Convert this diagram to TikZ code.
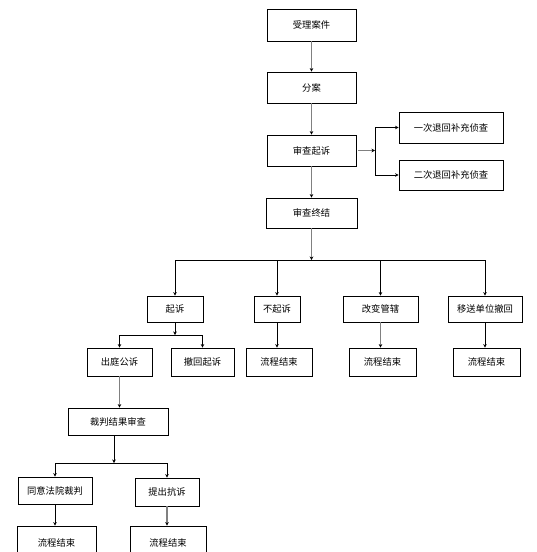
\documentclass[tikz,border=0pt]{standalone}
\usepackage{fontspec}
\setmainfont{Noto Sans CJK SC}
\usetikzlibrary{arrows.meta}
\begin{document}
\begin{tikzpicture}[x=1pt,y=-1pt,
  box/.style={draw=black,line width=0.8pt,fill=white,inner sep=0pt,font=\fontsize{9.3}{11}\selectfont},
  garr/.style={draw=gray,line width=1.4pt,-{Stealth[length=3.5pt,width=3.5pt,black]}},
  barr/.style={draw=black,line width=0.7pt,-{Stealth[length=3.5pt,width=3.5pt,black]}},
  bline/.style={draw=black,line width=0.7pt}]
\clip (0,0) rectangle (537,552);
\fill[white] (0,0) rectangle (537,552);
% main column
\node[box,minimum width=89,minimum height=32] (acc) at (311.5,25) {受理案件};
\node[box,minimum width=89,minimum height=31] (fen) at (311.5,87.5) {分案};
\node[box,minimum width=89,minimum height=31] (scqs) at (311.5,150.5) {审查起诉};
\node[box,minimum width=104,minimum height=31] (once) at (451,127.5) {一次退回补充侦查};
\node[box,minimum width=104,minimum height=30] (twice) at (451,175) {二次退回补充侦查};
\node[box,minimum width=91,minimum height=30] (zj) at (311.5,213) {审查终结};
% row 1
\node[box,minimum width=56,minimum height=26] (qs) at (175,309) {起诉};
\node[box,minimum width=46,minimum height=26] (bqs) at (277,309) {不起诉};
\node[box,minimum width=75,minimum height=26] (gbgx) at (380.5,309) {改变管辖};
\node[box,minimum width=74,minimum height=26] (ydw) at (485,309) {移送单位撤回};
% row 2
\node[box,minimum width=65,minimum height=28] (cting) at (119.5,362) {出庭公诉};
\node[box,minimum width=63,minimum height=28] (chqs) at (202.5,362) {撤回起诉};
\node[box,minimum width=66,minimum height=28] (end1) at (279,362) {流程结束};
\node[box,minimum width=67,minimum height=28] (end2) at (382.5,362) {流程结束};
\node[box,minimum width=67,minimum height=28] (end3) at (486.5,362) {流程结束};
% lower part
\node[box,minimum width=100,minimum height=27] (cpjg) at (118,421.5) {裁判结果审查};
\node[box,minimum width=74,minimum height=27] (tyfy) at (55,490.5) {同意法院裁判};
\node[box,minimum width=64,minimum height=28] (tckq) at (167,492) {提出抗诉};
\node[box,minimum width=79,minimum height=34] (end4) at (56.5,543) {流程结束};
\node[box,minimum width=76,minimum height=34] (end5) at (168,543) {流程结束};
% junctions
\coordinate (j1) at (375,150.5);
\coordinate (j2) at (311.5,260);
\coordinate (j3) at (175,335);
\coordinate (j4) at (114,463);
% connectors
\draw[garr] (acc.south) -- (fen.north);
\draw[garr] (fen.south) -- (scqs.north);
\draw[garr] (scqs.south) -- (zj.north);
\draw[garr] (scqs.east) ++(2,0) -- (j1);
\draw[barr] (j1) |- (once.west);
\draw[barr] (j1) |- (twice.west);
\draw[garr] (zj.south) -- (j2);
\draw[barr] (j2) -| (qs.north);
\draw[barr] (j2) -| (bqs.north);
\draw[barr] (j2) -| (gbgx.north);
\draw[barr] (j2) -| (ydw.north);
\draw[barr] (qs.south) -- (j3);
\draw[barr] (j3) -| (cting.north);
\draw[barr] (j3) -| (chqs.north);
\draw[barr] (bqs.south) -- (bqs.south |- end1.north);
\draw[garr] (gbgx.south) -- (gbgx.south |- end2.north);
\draw[barr] (ydw.south) -- (ydw.south |- end3.north);
\draw[garr] (cting.south) -- (cting.south |- cpjg.north);
\draw[barr] (cpjg.south -| j4) -- (j4);
\draw[barr] (j4) -| (tyfy.north);
\draw[barr] (j4) -| (tckq.north);
\draw[barr] (tyfy.south) -- (tyfy.south |- end4.north);
\draw[garr] (tckq.south) -- (tckq.south |- end5.north);
\end{tikzpicture}
\end{document}
